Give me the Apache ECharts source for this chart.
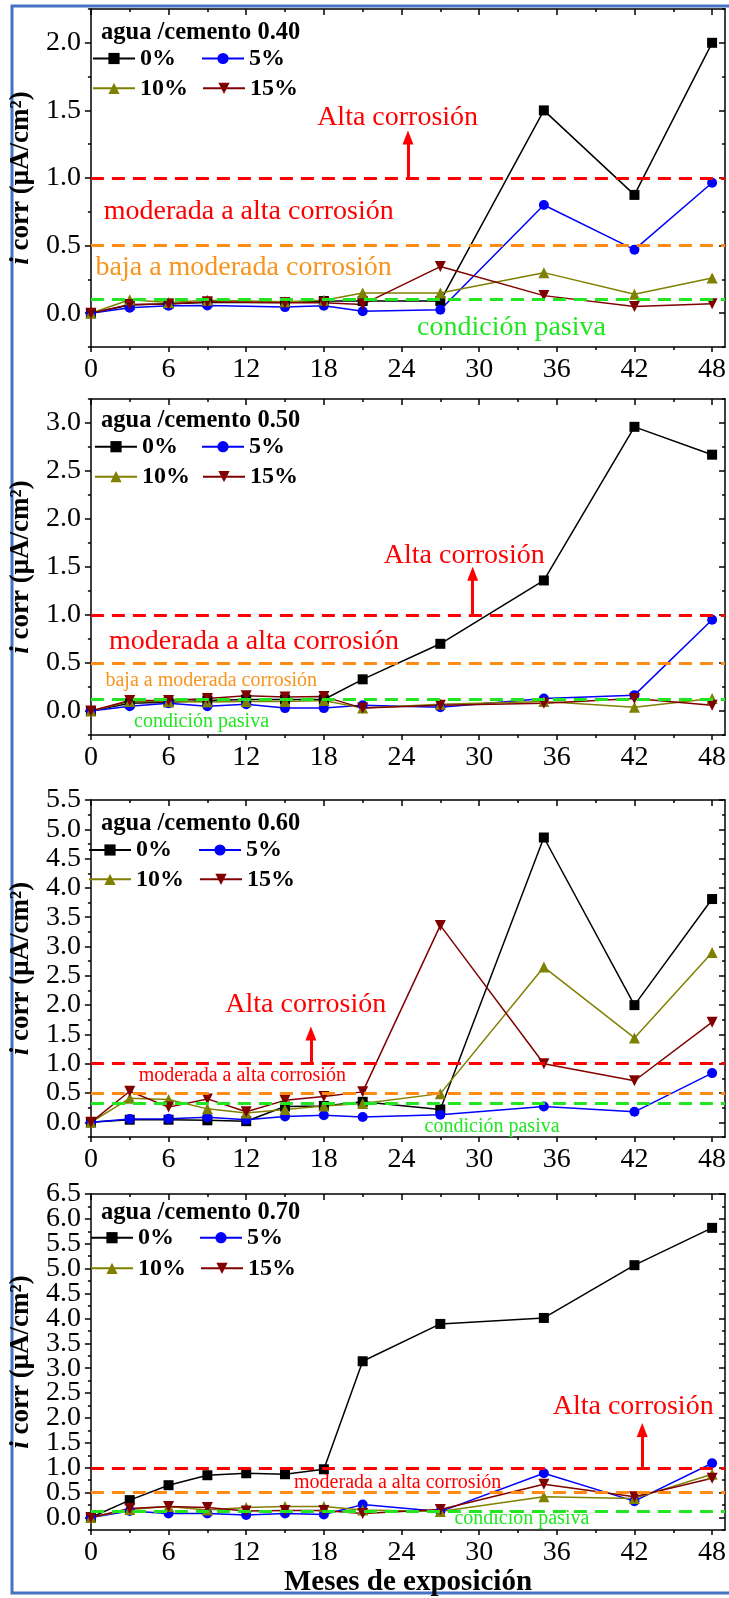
<!DOCTYPE html>
<html><head><meta charset="utf-8">
<script src="https://cdn.jsdelivr.net/npm/echarts@6/dist/echarts.min.js"></script>
<style>html,body{margin:0;padding:0;background:#fff}#c{width:729px;height:1598px}</style>
</head><body><div id="c"></div>
<script>
// ---------------- DATA ----------------
const monthsA = [0, 3, 6, 9, 15, 18, 21, 27, 35, 42, 48];
const monthsB = [0, 3, 6, 9, 12, 15, 18, 21, 27, 35, 42, 48];
const seriesNames = ['0%', '5%', '10%', '15%'];
const panelTitles = ['agua /cemento 0.40', 'agua /cemento 0.50', 'agua /cemento 0.60', 'agua /cemento 0.70'];

// a/c 0.40
const ac40_0  = [0, 0.06, 0.07, 0.08, 0.08, 0.09, 0.09, 0.09, 1.50, 0.875, 2.00];
const ac40_5  = [0, 0.04, 0.055, 0.057, 0.045, 0.055, 0.015, 0.025, 0.80, 0.47, 0.965];
const ac40_10 = [0, 0.10, 0.08, 0.095, 0.085, 0.095, 0.15, 0.15, 0.30, 0.14, 0.26];
const ac40_15 = [0, 0.065, 0.068, 0.085, 0.077, 0.077, 0.065, 0.345, 0.13, 0.05, 0.07];
// a/c 0.50
const ac50_0  = [0, 0.08, 0.09, 0.11, 0.12, 0.12, 0.12, 0.33, 0.70, 1.36, 2.96, 2.67];
const ac50_5  = [0, 0.05, 0.08, 0.05, 0.07, 0.03, 0.03, 0.06, 0.04, 0.13, 0.165, 0.95];
const ac50_10 = [0, 0.10, 0.10, 0.095, 0.10, 0.10, 0.11, 0.03, 0.07, 0.10, 0.04, 0.13];
const ac50_15 = [0, 0.11, 0.11, 0.13, 0.16, 0.145, 0.15, 0.03, 0.06, 0.08, 0.13, 0.06];
// a/c 0.60
const ac60_0  = [0, 0.045, 0.045, 0.035, 0.02, 0.27, 0.28, 0.35, 0.22, 4.86, 2.00, 3.81];
const ac60_5  = [0, 0.057, 0.06, 0.085, 0.045, 0.10, 0.12, 0.09, 0.13, 0.27, 0.18, 0.84];
const ac60_10 = [0, 0.41, 0.39, 0.23, 0.16, 0.22, 0.28, 0.32, 0.49, 2.65, 1.44, 2.90];
const ac60_15 = [0, 0.53, 0.26, 0.40, 0.18, 0.375, 0.44, 0.52, 3.36, 1.00, 0.71, 1.71];
// a/c 0.70
const ac70_0  = [0, 0.35, 0.65, 0.85, 0.89, 0.87, 0.97, 3.14, 3.89, 4.01, 5.07, 5.82];
const ac70_5  = [0, 0.13, 0.08, 0.08, 0.05, 0.08, 0.06, 0.26, 0.12, 0.89, 0.33, 1.09];
const ac70_10 = [0, 0.16, 0.22, 0.15, 0.20, 0.22, 0.22, 0.15, 0.12, 0.42, 0.385, 0.87];
const ac70_15 = [0, 0.18, 0.22, 0.20, 0.13, 0.14, 0.14, 0.08, 0.16, 0.67, 0.42, 0.79];

// tick labels
const xTickLabels = [0, 6, 12, 18, 24, 30, 36, 42, 48];
const xMinorTicks = [3, 9, 15, 21, 27, 33, 39, 45];
const yTicks40 = [0, 0.5, 1.0, 1.5, 2.0];
const yTicks50 = [0, 0.5, 1.0, 1.5, 2.0, 2.5, 3.0];
const yTicks60 = [0, 0.5, 1.0, 1.5, 2.0, 2.5, 3.0, 3.5, 4.0, 4.5, 5.0, 5.5];
const yTicks70 = [0, 0.5, 1.0, 1.5, 2.0, 2.5, 3.0, 3.5, 4.0, 4.5, 5.0, 5.5, 6.0, 6.5];
const yMinor40 = [-0.25, 0.25, 0.75, 1.25, 1.75, 2.25];
const yMinor50 = [-0.25, 0.25, 0.75, 1.25, 1.75, 2.25, 2.75, 3.25];
const yMinor60 = [-0.25, 0.25, 0.75, 1.25, 1.75, 2.25, 2.75, 3.25, 3.75, 4.25, 4.75, 5.25];
const yMinor70 = [-0.25, 0.25, 0.75, 1.25, 1.75, 2.25, 2.75, 3.25, 3.75, 4.25, 4.75, 5.25, 5.75, 6.25];

// corrosion threshold levels (µA/cm²)
const highLevels = [1.0, 1.0, 1.0, 1.0];
const moderateLevels = [0.5, 0.5, 0.5, 0.5];
const passiveLevels = [0.1, 0.12, 0.33, 0.12];

const zoneTexts = {
  alta: 'Alta corrosión',
  moderada: 'moderada a alta corrosión',
  baja: 'baja a moderada corrosión',
  pasiva: 'condición pasiva'
};

// ---------------- LAYOUT / STYLE ----------------
const FONT = "'Liberation Serif','Times New Roman',serif";
const RED = '#ff0000', ORANGE_LINE = '#ff8a14', ORANGE_TXT = '#f7941d', GREEN = '#22e622';
const colors = ['#000000', '#0000ff', '#808000', '#800000'];
const symbols = ['rect', 'circle', 'triangle', 'triangle'];
const symRot = [0, 0, 0, 180];
const symSize = [10, 10, 11, 11];

const panels = [
  { months: monthsA, values: [ac40_0, ac40_5, ac40_10, ac40_15], yMin: -0.25, yMax: 2.25, yTicks: yTicks40, yMinor: yMinor40,
    top: 9, height: 338, titleY: 31.7, row1: 58.5, row2: 88.3, col1: 92, col2: 201,
    ann: { alta: [23.7, 1.45, 28], arrow: [24.5, 1.30], moderada: [12.2, 0.75, 28], baja: [11.8, 0.335, 28], pasiva: [32.5, -0.11, 28] } },
  { months: monthsB, values: [ac50_0, ac50_5, ac50_10, ac50_15], yMin: -0.25, yMax: 3.25, yTicks: yTicks50, yMinor: yMinor50,
    top: 399, height: 336, titleY: 420, row1: 446.7, row2: 476.7, col1: 94, col2: 201,
    ann: { alta: [28.85, 1.616, 28], arrow: [29.5, 1.43], moderada: [12.6, 0.72, 28], baja: [9.3, 0.32, 20], pasiva: [8.55, -0.11, 20] } },
  { months: monthsB, values: [ac60_0, ac60_5, ac60_10, ac60_15], yMin: -0.25, yMax: 5.5, yTicks: yTicks60, yMinor: yMinor60,
    top: 800, height: 337, titleY: 823, row1: 850, row2: 879.3, col1: 88, col2: 198,
    ann: { alta: [16.6, 2.0, 28], arrow: [17.0, 1.515], moderada: [11.7, 0.794, 20], pasiva: [31.0, -0.075, 20] } },
  { months: monthsB, values: [ac70_0, ac70_5, ac70_10, ac70_15], yMin: -0.25, yMax: 6.5, yTicks: yTicks70, yMinor: yMinor70,
    top: 1194, height: 336, titleY: 1211.7, row1: 1237.7, row2: 1268.3, col1: 90, col2: 199,
    ann: { alta: [41.9, 2.22, 28], arrow: [42.6, 1.76], moderada: [23.7, 0.70, 20], pasiva: [33.3, -0.03, 20] } }
];

const grids = [], xAxes = [], yAxes = [], series = [], legends = [], titles = [];
const axisLineStyle = { color: '#000', width: 1.5 };
const yLabelStyle = { fontSize: 28, fontFamily: FONT, color: '#000', margin: 10, showMinLabel: true, showMaxLabel: true,
  hideOverlap: false, formatter: v => Number(v).toFixed(1) };

panels.forEach((p, g) => {
  grids.push({ left: 86, right: 1, top: p.top, height: p.height });
  const xBase = { type: 'value', gridIndex: g, min: 0, max: 49, splitLine: { show: false } };
  // bottom major (labels)
  const xMain = Object.assign({}, xBase, {
    position: 'bottom',
    axisLine: { show: true, onZero: false, lineStyle: axisLineStyle },
    axisTick: { show: true, inside: false, length: 5, customValues: xTickLabels, lineStyle: axisLineStyle },
    axisLabel: { show: true, customValues: xTickLabels, showMinLabel: true, showMaxLabel: true,
      fontSize: 28, fontFamily: FONT, color: '#000', margin: 9 }
  });
  if (g === 3) {
    Object.assign(xMain, { name: 'Meses de exposición', nameLocation: 'middle', nameGap: 33,
      nameTextStyle: { fontSize: 29, fontWeight: 'bold', fontFamily: FONT, color: '#000' } });
  }
  xAxes.push(xMain);
  xAxes.push(Object.assign({}, xBase, { position: 'bottom', axisLine: { show: false, onZero: false },
    axisTick: { show: true, inside: false, length: 3, customValues: xMinorTicks, lineStyle: axisLineStyle }, axisLabel: { show: false } }));
  xAxes.push(Object.assign({}, xBase, { position: 'top', axisLine: { show: true, onZero: false, lineStyle: axisLineStyle },
    axisTick: { show: true, inside: true, length: 6, customValues: xTickLabels, lineStyle: axisLineStyle }, axisLabel: { show: false } }));
  xAxes.push(Object.assign({}, xBase, { position: 'top', axisLine: { show: false, onZero: false },
    axisTick: { show: true, inside: true, length: 3, customValues: xMinorTicks, lineStyle: axisLineStyle }, axisLabel: { show: false } }));

  // labels split in two interleaved sets so that ECharts never drops a crowded one
  const yEven = p.yTicks.filter((v, i) => i % 2 === 0);
  const yOdd = p.yTicks.filter((v, i) => i % 2 === 1);
  const yBase = { type: 'value', gridIndex: g, min: p.yMin, max: p.yMax, splitLine: { show: false } };
  yAxes.push(Object.assign({}, yBase, {
    position: 'left',
    axisLine: { show: true, onZero: false, lineStyle: axisLineStyle },
    axisTick: { show: true, inside: false, length: 6, customValues: p.yTicks, lineStyle: axisLineStyle },
    axisLabel: Object.assign({ show: true, customValues: yEven }, yLabelStyle),
    name: '{it|i} corr (μA/cm²)', nameLocation: 'middle', nameRotate: 90, nameGap: 46,
    nameTextStyle: { fontSize: 27, fontWeight: 'bold', fontFamily: FONT, color: '#000',
      rich: { it: { fontSize: 27, fontWeight: 'bold', fontStyle: 'italic', fontFamily: FONT, color: '#000' } } }
  }));
  yAxes.push(Object.assign({}, yBase, { position: 'left', axisLine: { show: false, onZero: false },
    axisTick: { show: true, inside: false, length: 3, customValues: p.yMinor, lineStyle: axisLineStyle },
    axisLabel: Object.assign({ show: true, customValues: yOdd }, yLabelStyle) }));
  yAxes.push(Object.assign({}, yBase, { position: 'right', axisLine: { show: true, onZero: false, lineStyle: axisLineStyle },
    axisTick: { show: true, inside: true, length: 6, customValues: p.yTicks, lineStyle: axisLineStyle }, axisLabel: { show: false } }));
  yAxes.push(Object.assign({}, yBase, { position: 'right', axisLine: { show: false, onZero: false },
    axisTick: { show: true, inside: true, length: 3, customValues: p.yMinor, lineStyle: axisLineStyle }, axisLabel: { show: false } }));

  const xi = g * 4, yi = g * 4;

  // helper series: threshold lines, arrow, zone texts
  const a = p.ann;
  const txt = (key, color) => ({
    coord: [a[key][0], a[key][1]], symbol: 'circle', symbolSize: 1, itemStyle: { color: 'rgba(0,0,0,0)' },
    label: { show: true, position: 'inside', formatter: zoneTexts[key], color: color, fontSize: a[key][2], fontFamily: FONT }
  });
  const mpData = [txt('alta', RED), txt('moderada', RED), txt('pasiva', GREEN)];
  if (a.baja) mpData.push(txt('baja', ORANGE_TXT));
  series.push({
    type: 'line', name: 'zones', xAxisIndex: xi, yAxisIndex: yi, data: [], z: 1, silent: true,
    markLine: {
      silent: true, symbol: ['none', 'none'], label: { show: false },
      data: [
        { yAxis: highLevels[g], lineStyle: { color: RED, width: 3, type: [13, 8] } },
        { yAxis: moderateLevels[g], lineStyle: { color: ORANGE_LINE, width: 3, type: [13, 8] } },
        { yAxis: passiveLevels[g], lineStyle: { color: GREEN, width: 3, type: [13, 8] } },
        [ { coord: [a.arrow[0], highLevels[g]], symbol: 'none' },
          { coord: [a.arrow[0], a.arrow[1]], symbol: 'triangle', symbolSize: [11, 14], lineStyle: { color: RED, width: 3, type: 'solid' } } ]
      ]
    },
    markPoint: { silent: true, data: mpData }
  });

  seriesNames.forEach((nm, k) => {
    series.push({
      type: 'line', name: nm, xAxisIndex: xi, yAxisIndex: yi, z: 3,
      data: p.months.map((m, j) => [m, p.values[k][j]]),
      symbol: symbols[k], symbolRotate: symRot[k], symbolSize: symSize[k],
      showSymbol: true, showAllSymbol: true,
      lineStyle: { color: colors[k], width: 1.5 }, itemStyle: { color: colors[k] }
    });
  });

  titles.push({ text: panelTitles[g], left: 101, top: p.titleY - 12, padding: 0,
    textStyle: { fontFamily: FONT, fontSize: 24.5, fontWeight: 'bold', color: '#000' } });

  const lg = (nm, left, cy) => ({
    data: [nm], left: left, top: cy - 12, padding: 0, itemGap: 0, itemWidth: 42, itemHeight: 14,
    selectedMode: false, textStyle: { fontFamily: FONT, fontSize: 24, fontWeight: 'bold', color: '#000' }
  });
  legends.push(lg('0%', p.col1, p.row1), lg('5%', p.col2, p.row1), lg('10%', p.col1, p.row2), lg('15%', p.col2 + 1, p.row2));
});

const chart = echarts.init(document.getElementById('c'), null, { renderer: 'canvas' });
chart.setOption({
  animation: false,
  backgroundColor: '#ffffff',
  title: titles,
  legend: legends,
  grid: grids,
  xAxis: xAxes,
  yAxis: yAxes,
  series: series,
  graphic: [{ type: 'rect', silent: true, z: -10, shape: { x: 12, y: 6, width: 740, height: 1587 },
    style: { fill: 'none', stroke: '#4472c4', lineWidth: 3 } }]
});
</script></body></html>
